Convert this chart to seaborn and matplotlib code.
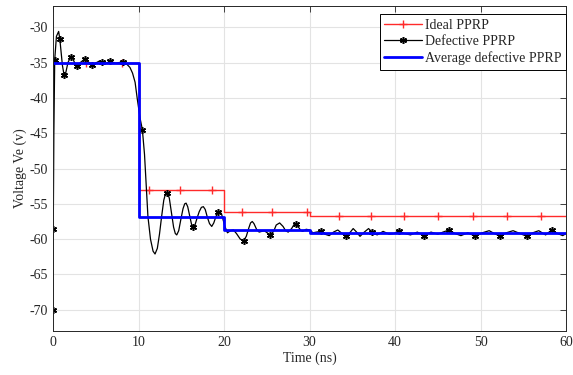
import numpy as np
import matplotlib
matplotlib.use("Agg")
import matplotlib.pyplot as plt
from matplotlib.lines import Line2D
import seaborn as sns

# --- Dados ---

# Ideal PPRP (degraus)
ideal_t = [0, 10, 20, 30, 60]
ideal_v = [-35.0, -53.0, -56.1, -56.7]
ideal_marker_t = [0, 3.9, 8.1, 11.2, 14.9, 18.6, 22.1, 25.6, 29.7, 33.4,
                  37.2, 41.1, 45.0, 49.1, 53.1, 57.1]

# Average defective PPRP (degraus)
media_t = [0, 10, 20, 30, 60]
media_v = [-35.0, -56.8, -58.7, -59.15]

# Defective PPRP (curva)
defeito_t = [0, 0.03, 0.1, 0.2, 0.4, 0.66, 0.8, 0.95, 1.1, 1.3, 1.5, 1.75,
             2.07, 2.3, 2.55, 2.8, 3.2, 3.7, 4.1, 4.6, 5.1, 5.4, 5.7, 6.2,
             6.7, 7.3, 8.15, 8.6, 9.0, 9.3, 9.6, 9.86, 10.2, 10.45, 10.7,
             11.1, 11.4, 11.7, 11.93, 12.2, 12.45, 12.7, 12.95, 13.15, 13.37,
             13.6, 13.85, 14.1, 14.3, 14.47, 14.7, 14.95, 15.2, 15.4, 15.56,
             15.75, 16.0, 16.2, 16.4, 16.6, 16.85, 17.1, 17.35, 17.58, 17.8,
             18.05, 18.3, 18.56, 18.8, 19.05, 19.3, 19.5, 19.7, 19.9, 20.1,
             20.4, 20.75, 21.1, 21.45, 21.9, 22.3, 22.6, 22.9, 23.1, 23.3,
             23.5, 23.8, 24.1, 24.7, 25.4, 25.8, 26.1, 26.5, 26.9, 27.2,
             27.5, 27.9, 28.2, 28.4, 28.7, 29.0, 29.2, 29.6, 30.0, 30.4,
             30.8, 31.3, 31.8, 32.3, 32.8, 33.3, 33.8, 34.3, 34.7, 35.1,
             35.5, 35.9, 36.4, 36.9, 37.3, 37.9, 38.6, 39.3, 39.9, 40.4,
             41.1, 41.8, 42.6, 43.4, 44.2, 45.0, 45.6, 46.3, 47.0, 47.7,
             48.5, 49.4, 50.2, 51.0, 51.6, 52.3, 53.0, 53.8, 54.6, 55.4,
             56.1, 56.8, 57.6, 58.3, 59.0, 59.6, 60.0]
defeito_v = [-70.0, -58.6, -45.0, -34.6, -31.3, -30.6, -31.7, -33.6, -35.4,
             -36.8, -36.4, -35.0, -34.2, -34.4, -35.1, -35.5, -35.0, -34.5,
             -34.9, -35.3, -35.0, -34.8, -34.9, -35.1, -34.8, -35.1, -34.9,
             -35.2, -35.7, -36.5, -37.8, -40.2, -43.0, -44.5, -48.0, -56.8,
             -60.0, -61.7, -62.1, -61.3, -59.3, -56.8, -54.5, -53.6, -53.4,
             -54.2, -56.3, -58.3, -59.2, -59.4, -58.8, -57.2, -55.7, -55.0,
             -54.9, -55.4, -56.8, -57.9, -58.3, -58.0, -57.0, -56.1, -55.5,
             -55.4, -55.8, -56.9, -57.8, -58.2, -57.7, -56.8, -56.2, -56.1,
             -56.4, -57.3, -58.2, -59.1, -58.8, -58.7, -59.2, -60.0, -60.2,
             -59.6, -58.4, -57.7, -57.5, -57.8, -58.6, -59.0, -58.8, -59.4,
             -58.9, -58.0, -57.7, -58.2, -58.8, -59.0, -58.5, -57.9, -57.8,
             -58.3, -58.8, -58.9, -58.6, -58.7, -59.1, -59.0, -58.9, -59.3,
             -59.5, -59.0, -58.7, -59.2, -59.6, -59.1, -58.5, -59.0, -59.6,
             -59.0, -58.5, -59.0, -59.4, -58.9, -59.3, -59.2, -58.8, -59.2,
             -59.4, -59.0, -59.5, -59.0, -59.3, -59.0, -58.7, -59.2, -59.5,
             -59.1, -59.6, -59.1, -58.8, -59.2, -59.6, -59.1, -58.8, -59.2,
             -59.6, -59.1, -58.8, -59.4, -58.7, -59.2, -59.5, -59.2]
defeito_marker_t = [0, 0, 0.2, 0.8, 1.3, 2.07, 2.8, 3.7, 4.6, 5.7, 6.7, 8.15,
                    10.45, 13.37, 16.4, 19.3, 22.3, 25.4, 28.4, 31.3, 34.3,
                    37.3, 40.4, 43.4, 46.3, 49.4, 52.3, 55.4, 58.3]
defeito_marker_v = [-70.0, -58.6, -34.6, -31.7, -36.8, -34.2, -35.5, -34.5,
                    -35.3, -34.9, -34.8, -34.9, -44.5, -53.4, -58.3, -56.2,
                    -60.2, -59.4, -57.8, -58.9, -59.6, -59.0, -58.8, -59.5,
                    -58.7, -59.6, -59.6, -59.6, -58.7]

x_ticks = [0, 10, 20, 30, 40, 50, 60]
y_ticks = [-70, -65, -60, -55, -50, -45, -40, -35, -30]

# --- Estilo ---
sns.set_theme(style="whitegrid")
plt.rcParams['font.family'] = ['Liberation Serif', 'DejaVu Serif']
plt.rcParams['axes.unicode_minus'] = False

fig = plt.figure(figsize=(5.73, 3.75), dpi=100)
ax = fig.add_axes([0.0925, 0.1173, 0.8955, 0.8667])
ax.set_facecolor('white')

# asterisco no estilo do MATLAB
asterisco = (6, 2, 0)

# Degraus: repete o último valor para o traçado 'steps-post'
ideal_y = ideal_v + [ideal_v[-1]]
media_y = media_v + [media_v[-1]]

sns.lineplot(x=ideal_t, y=ideal_y, ax=ax, color='#ff2a2a', linewidth=1.0,
             drawstyle='steps-post', estimator=None, sort=False)
idx = np.searchsorted(ideal_t, ideal_marker_t, side='right') - 1
idx = np.clip(idx, 0, len(ideal_v) - 1)
ax.plot(ideal_marker_t, np.array(ideal_v)[idx], linestyle='none',
        marker='+', color='#ff2a2a', markersize=6, markeredgewidth=1.0)

sns.lineplot(x=defeito_t, y=defeito_v, ax=ax, color='black', linewidth=0.9,
             estimator=None, sort=False)
ax.plot(defeito_marker_t, defeito_marker_v, linestyle='none', marker=asterisco,
        color='black', markersize=5, markeredgewidth=1.1)

sns.lineplot(x=media_t, y=media_y, ax=ax, color='#0000ff', linewidth=2.0,
             drawstyle='steps-post', estimator=None, sort=False)

ax.set_xlim(0, 60)
ax.set_ylim(-73, -27)
ax.set_xticks(x_ticks)
ax.set_yticks(y_ticks)
ax.grid(True, color='#e3e3e3', linewidth=0.8, linestyle='-')
ax.tick_params(direction='in', length=4, width=0.6, colors='#262626',
               labelsize=10, top=True, right=True, labelcolor='#262626')
for s in ax.spines.values():
    s.set_visible(True)
    s.set_color('#262626')
    s.set_linewidth(0.7)

ax.set_xlabel('Time (ns)', fontsize=10, color='#262626', labelpad=2)
ax.set_ylabel('Voltage Ve (v)', fontsize=10, color='#262626', labelpad=2)

handles = [
    Line2D([], [], color='#ff2a2a', linewidth=1.0, marker='+', markersize=6),
    Line2D([], [], color='black', linewidth=0.9, marker=asterisco,
           markersize=5, markeredgewidth=1.1),
    Line2D([], [], color='#0000ff', linewidth=2.0),
]
labels = ['Ideal PPRP', 'Defective PPRP', 'Average defective PPRP']
leg = ax.legend(handles, labels, loc='upper right', bbox_to_anchor=(1.0, 0.975),
                fontsize=10, frameon=True, fancybox=False, framealpha=1,
                edgecolor='black', borderaxespad=0, handlelength=2.7,
                handletextpad=0.2, labelspacing=0.22, borderpad=0.35)
leg.get_frame().set_linewidth(0.7)

fig.savefig('out.png', dpi=100)
